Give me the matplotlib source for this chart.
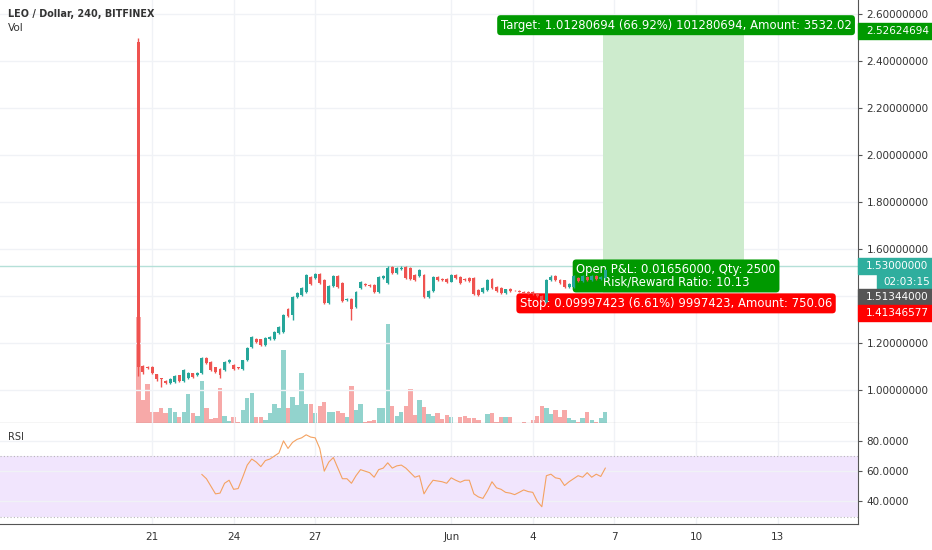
import numpy as np
import pandas as pd
import matplotlib
matplotlib.use("Agg")
import matplotlib.pyplot as plt
import matplotlib.dates as mdates
from matplotlib.patches import Rectangle

plt.rcParams["font.family"] = ["DejaVu Sans"]

# 4h candles, LEO / Dollar (BITFINEX)
opens = [2.48, 1.102, 1.098, 1.098, 1.068, 1.051, 1.038, 1.030, 1.034, 1.064,
         1.038, 1.051, 1.072, 1.064, 1.072, 1.136, 1.119, 1.098, 1.089, 1.085,
         1.119, 1.106, 1.098, 1.089, 1.128, 1.183, 1.217, 1.217, 1.191, 1.217,
         1.217, 1.243, 1.247, 1.345, 1.319, 1.396, 1.404, 1.417, 1.481, 1.477,
         1.494, 1.468, 1.370, 1.443, 1.485, 1.455, 1.383, 1.387, 1.353, 1.434,
         1.451, 1.447, 1.447, 1.417, 1.477, 1.455, 1.523, 1.498, 1.515, 1.523,
         1.519, 1.489, 1.485, 1.489, 1.396, 1.421, 1.481, 1.472, 1.472, 1.460,
         1.489, 1.481, 1.472, 1.477, 1.477, 1.426, 1.417, 1.426, 1.472, 1.438,
         1.434, 1.413, 1.430, 1.426, 1.421, 1.417, 1.417, 1.417, 1.409, 1.400,
         1.374, 1.468, 1.485, 1.468, 1.468, 1.438, 1.438, 1.477, 1.464, 1.481,
         1.468, 1.485, 1.472, 1.477]
closes = [1.098, 1.077, 1.094, 1.072, 1.047, 1.047, 1.030, 1.047, 1.060, 1.038,
          1.085, 1.072, 1.055, 1.072, 1.136, 1.115, 1.085, 1.077, 1.064, 1.119,
          1.128, 1.089, 1.094, 1.128, 1.179, 1.226, 1.204, 1.191, 1.221, 1.226,
          1.247, 1.268, 1.319, 1.315, 1.396, 1.413, 1.434, 1.489, 1.451, 1.494,
          1.455, 1.370, 1.443, 1.485, 1.438, 1.379, 1.387, 1.345, 1.417, 1.460,
          1.447, 1.443, 1.417, 1.481, 1.485, 1.519, 1.498, 1.519, 1.519, 1.477,
          1.472, 1.468, 1.511, 1.396, 1.421, 1.481, 1.468, 1.470, 1.460, 1.489,
          1.477, 1.455, 1.468, 1.464, 1.409, 1.404, 1.434, 1.468, 1.434, 1.421,
          1.413, 1.430, 1.421, 1.424, 1.419, 1.415, 1.413, 1.409, 1.400, 1.383,
          1.468, 1.481, 1.468, 1.455, 1.438, 1.451, 1.485, 1.464, 1.485, 1.468,
          1.485, 1.472, 1.481, 1.513]
highs = [2.50, 1.108, 1.104, 1.102, 1.070, 1.053, 1.042, 1.050, 1.064, 1.066,
         1.088, 1.078, 1.074, 1.076, 1.142, 1.140, 1.122, 1.100, 1.092, 1.122,
         1.132, 1.110, 1.100, 1.130, 1.182, 1.232, 1.220, 1.219, 1.224, 1.230,
         1.250, 1.272, 1.322, 1.350, 1.400, 1.418, 1.440, 1.494, 1.486, 1.500,
         1.500, 1.472, 1.447, 1.490, 1.488, 1.458, 1.390, 1.390, 1.420, 1.465,
         1.455, 1.450, 1.450, 1.484, 1.490, 1.528, 1.528, 1.522, 1.530, 1.528,
         1.524, 1.492, 1.514, 1.492, 1.424, 1.486, 1.484, 1.478, 1.476, 1.492,
         1.494, 1.484, 1.476, 1.480, 1.480, 1.430, 1.437, 1.471, 1.476, 1.441,
         1.437, 1.432, 1.433, 1.428, 1.424, 1.420, 1.420, 1.420, 1.412, 1.403,
         1.472, 1.488, 1.490, 1.472, 1.470, 1.454, 1.488, 1.480, 1.490, 1.484,
         1.488, 1.488, 1.484, 1.516]
lows = [1.060, 1.070, 1.090, 1.068, 1.040, 1.013, 1.026, 1.027, 1.030, 1.034,
        1.034, 1.048, 1.052, 1.060, 1.070, 1.112, 1.082, 1.074, 1.051, 1.082,
        1.116, 1.086, 1.090, 1.085, 1.125, 1.180, 1.200, 1.188, 1.188, 1.214,
        1.214, 1.240, 1.244, 1.312, 1.300, 1.392, 1.400, 1.414, 1.448, 1.474,
        1.452, 1.366, 1.366, 1.440, 1.434, 1.375, 1.380, 1.298, 1.350, 1.430,
        1.444, 1.440, 1.414, 1.414, 1.474, 1.452, 1.494, 1.495, 1.512, 1.474,
        1.468, 1.465, 1.482, 1.390, 1.392, 1.418, 1.464, 1.466, 1.456, 1.458,
        1.474, 1.452, 1.466, 1.460, 1.405, 1.400, 1.414, 1.423, 1.430, 1.418,
        1.410, 1.410, 1.418, 1.421, 1.416, 1.412, 1.410, 1.405, 1.396, 1.378,
        1.370, 1.464, 1.465, 1.452, 1.434, 1.434, 1.434, 1.461, 1.460, 1.465,
        1.465, 1.470, 1.470, 1.474]
vol_k = [106, 23, 39, 11, 11, 15, 10, 15, 11, 6,
         11, 29, 10, 7, 42, 15, 4, 5, 35, 7,
         2, 6, 1, 13, 25, 30, 6, 6, 3, 10,
         19, 15, 73, 15, 26, 18, 50, 19, 19, 10,
         17, 21, 11, 11, 12, 10, 6, 37, 13, 19,
         1, 2, 3, 15, 15, 99, 17, 7, 11, 17,
         34, 8, 23, 16, 9, 7, 10, 4, 8, 6,
         0.5, 6, 7, 5, 5, 3, 0.5, 9, 10, 1,
         6, 6, 6, 0.5, 0.5, 1, 0.5, 3, 7, 17,
         15, 9, 13, 6, 13, 5, 3, 1, 5, 11,
         3, 1, 5, 11]
rsi_first_bar = 14
rsi = [57.8, 55, 50, 45, 45.5, 52, 54, 48, 48.5, 56,
       64, 68, 66, 63, 67, 68, 70, 72, 80, 75,
       79, 81, 82, 84, 82.5, 82, 75, 60, 66, 69,
       62, 55, 55, 52, 57, 61, 60, 59, 56, 61,
       62, 65.5, 62, 63.5, 64, 62, 59, 56, 57, 45,
       50, 54, 53.5, 53, 52, 55.6, 54, 52.7, 54, 54,
       45, 43, 42, 47, 53, 49, 48, 46, 45.5, 44.5,
       46, 47.6, 46.5, 46, 40, 36.5, 57, 58, 55.6, 55,
       50.5, 53, 55, 57, 56, 59, 56, 58, 56.5, 62]

# position tool
entry = 1.53
target = 2.52624694
stop = 1.41346577
last_price = 1.51344
pos_start = "2019-06-06 14:00"
pos_end = "2019-06-11 18:00"

date_ticks = ["2019-05-21", "2019-05-24", "2019-05-27", "2019-06-01", "2019-06-04",
              "2019-06-07", "2019-06-10", "2019-06-13"]
date_labels = ["21", "24", "27", "Jun", "4", "7", "10", "13"]
price_ticks = [1.0, 1.2, 1.4, 1.6, 1.8, 2.0, 2.2, 2.4, 2.6]
rsi_ticks = [40, 60, 80]

W, H = 932, 550
up, down = "#26a69a", "#ef5350"
vol_up, vol_down = "#92d3cd", "#f7a9a8"
grid_c = "#f0f2f6"
axis_c = "#555555"
txt_c = "#333333"

times = pd.date_range("2019-05-20 12:00", periods=len(opens), freq="4h")
x = mdates.date2num(times)
bar = 1 / 6
o = np.array(opens); c = np.array(closes)
is_up = c >= o

fig = plt.figure(figsize=(W / 100, H / 100), dpi=100)
main_pos = [0, 127 / H, 858 / W, 423 / H]
rsi_pos = [0, 26 / H, 858 / W, 101 / H]

ax_vol = fig.add_axes(main_pos)
ax = fig.add_axes(main_pos, sharex=ax_vol)
ax_r = fig.add_axes(rsi_pos, sharex=ax_vol)
ax.patch.set_alpha(0)

# volume
ax_vol.bar(x, vol_k, width=bar * 0.95, color=np.where(is_up, vol_up, vol_down), zorder=1)
ax_vol.set_ylim(0, 423)
ax_vol.axis("off")

# candles
cols = np.where(is_up, up, down)
ax.vlines(x, lows, highs, colors=cols, lw=1, zorder=4)
body_h = np.maximum(np.abs(c - o), 0.004)
ax.bar(x, body_h, bottom=np.minimum(o, c), width=bar * 0.65, color=cols, zorder=4)

x0 = mdates.date2num(pd.Timestamp(pos_start))
x1 = mdates.date2num(pd.Timestamp(pos_end))
ax.fill_between([x0, x1], entry, target, color="#cdebcd", lw=0, zorder=1)
ax.fill_between([x0, x1], stop, entry, color="#fde2e2", lw=0, zorder=1)
ax.axhline(entry, color="#b5e0d8", lw=1, zorder=1)

xlim = (mdates.date2num(pd.Timestamp("2019-05-15 09:50")),
        mdates.date2num(pd.Timestamp("2019-06-15 23:00")))
ax.set_xlim(xlim)
ax.set_ylim(0.860, 2.660)

tick_dates = mdates.date2num(pd.to_datetime(date_ticks))
for a in (ax, ax_r):
    for t in tick_dates:
        a.axvline(t, color=grid_c, lw=1, zorder=0)
for p in price_ticks:
    ax.axhline(p, color=grid_c, lw=1, zorder=0)

ax.yaxis.tick_right()
ax.set_yticks(price_ticks)
ax.set_yticklabels(["%.8f" % p for p in price_ticks])
ax.tick_params(axis="y", colors=axis_c, labelcolor=txt_c, labelsize=7.5, length=3, pad=3)
ax.tick_params(axis="x", bottom=False, labelbottom=False)
for s in ("top", "left"):
    ax.spines[s].set_visible(False)
for s in ("right", "bottom"):
    ax.spines[s].set_color(axis_c)

mid = (x0 + x1) / 2
box = dict(boxstyle="round,pad=0.3,rounding_size=0.3", ec="none")
ax.annotate("Target: 1.01280694 (66.92%) 101280694, Amount: 3532.02", (mid, target),
            xytext=(2, 4.5), textcoords="offset points", ha="center", va="center",
            fontsize=8.4, color="white", bbox=dict(box, fc="#009900"), zorder=3)
ax.annotate("Open P&L: 0.01656000, Qty: 2500\nRisk/Reward Ratio: 10.13", (mid, entry),
            xytext=(2, -7.5), textcoords="offset points", ha="center", va="center",
            fontsize=8.4, color="white", linespacing=1.0, bbox=dict(box, fc="#009900"), zorder=3)
ax.annotate("Stop: 0.09997423 (6.61%) 9997423, Amount: 750.06", (mid, stop),
            xytext=(2, -7.5), textcoords="offset points", ha="center", va="center",
            fontsize=8.4, color="white", bbox=dict(box, fc="#ff0000"), zorder=3)

# RSI
ax_r.axhspan(30, 70, color="#f1e5fd", lw=0, zorder=0)
ax_r.axhline(70, color="#b8b8b8", lw=0.8, ls=(0, (1, 2)), zorder=1)
ax_r.axhline(30, color="#b8b8b8", lw=0.8, ls=(0, (1, 2)), zorder=1)
for p in rsi_ticks:
    ax_r.axhline(p, color=grid_c, lw=1, zorder=0)
ax_r.plot(x[rsi_first_bar:rsi_first_bar + len(rsi)], rsi, color="#f4a261", lw=0.8, zorder=3)
ax_r.set_ylim(25.1, 91.8)
ax_r.yaxis.tick_right()
ax_r.set_yticks(rsi_ticks)
ax_r.set_yticklabels(["%.4f" % v for v in rsi_ticks])
ax_r.tick_params(axis="y", colors=axis_c, labelcolor=txt_c, labelsize=7.5, length=3, pad=3)
ax_r.set_xticks(tick_dates)
ax_r.set_xticklabels(date_labels)
ax_r.tick_params(axis="x", length=0, labelsize=7.5, labelcolor=txt_c, pad=6)
for s in ("top", "left"):
    ax_r.spines[s].set_visible(False)
for s in ("right", "bottom"):
    ax_r.spines[s].set_color(axis_c)
ax_r.set_xlim(xlim)

# price tags on the right axis
def tag(ypix, text, color, left=858):
    fig.patches.append(Rectangle((left / W, (ypix - 8) / H), (W - left) / W, 16 / H,
                                 transform=fig.transFigure, color=color, zorder=5))
    fig.text((left + 8) / W if left == 858 else (left + 6) / W, ypix / H, text,
             color="white", fontsize=7.5, va="center", ha="left", zorder=6)

fig.canvas.draw()
ypx = lambda p: ax.transData.transform((xlim[0], p))[1]
tag(ypx(target), "%.8f" % target, "#009900")
y_e = ypx(entry)
tag(y_e, "%.8f" % entry, "#2fae9e")
tag(y_e - 16, "02:03:15", "#2fae9e", left=877)
tag(y_e - 31, "%.8f" % last_price, "#555555")
tag(y_e - 47, "%.8f" % stop, "#ff0000")

fig.text(8 / W, 1 - 14 / H, "LEO / Dollar, 240, BITFINEX", fontsize=6.9,
         fontweight="bold", color=txt_c, va="center")
fig.text(8 / W, 1 - 28 / H, "Vol", fontsize=7.5, color=txt_c, va="center")
fig.text(8 / W, 1 - 437 / H, "RSI", fontsize=7, color=txt_c, va="center")

fig.savefig("out.png", dpi=100)
